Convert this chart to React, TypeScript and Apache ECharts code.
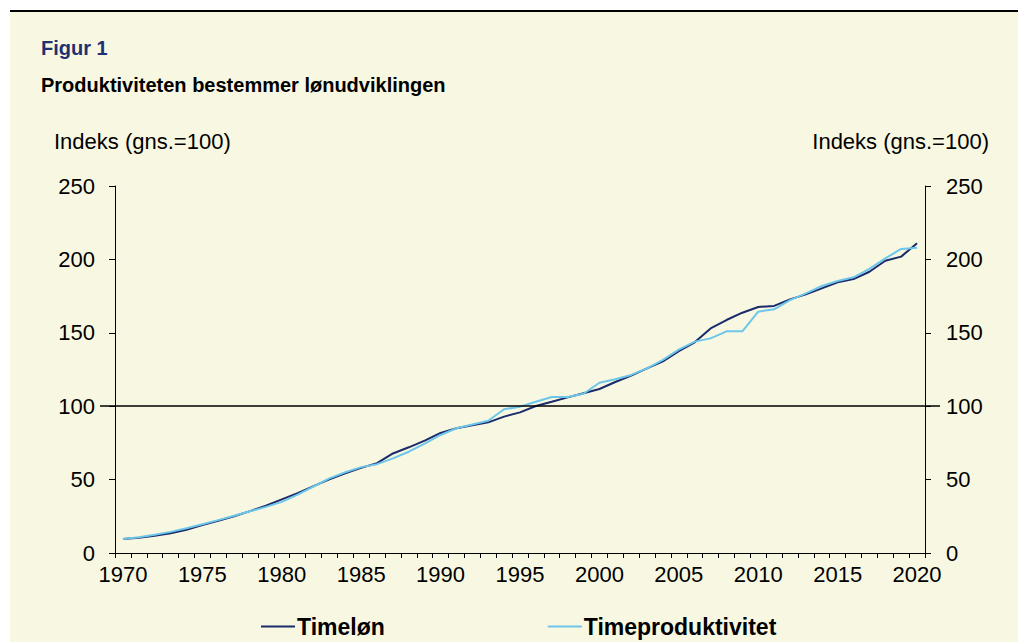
import React, { useEffect, useRef } from 'react';
import * as echarts from 'echarts';

const years = [
  '1970', '1971', '1972', '1973', '1974', '1975', '1976', '1977', '1978', '1979',
  '1980', '1981', '1982', '1983', '1984', '1985', '1986', '1987', '1988', '1989',
  '1990', '1991', '1992', '1993', '1994', '1995', '1996', '1997', '1998', '1999',
  '2000', '2001', '2002', '2003', '2004', '2005', '2006', '2007', '2008', '2009',
  '2010', '2011', '2012', '2013', '2014', '2015', '2016', '2017', '2018', '2019',
  '2020',
];

const timelon = [
  9.5, 10.4, 11.7, 13.4, 15.8, 19.0, 22.0, 25.0, 28.5, 32.2,
  36.5, 40.8, 45.5, 50.2, 54.3, 58.0, 61.2, 67.8, 72.0, 76.5,
  81.8, 85.0, 87.0, 89.0, 92.9, 95.8, 100.1, 103.0, 106.0, 108.8,
  111.7, 116.5, 120.8, 125.8, 130.5, 137.5, 143.5, 153.0, 158.7, 163.7,
  167.6, 168.3, 172.8, 176.2, 180.3, 184.4, 186.6, 191.6, 199.1, 201.9,
  211.0,
];

const timeproduktivitet = [
  9.5, 10.8, 12.4, 14.4, 16.8, 19.6, 22.4, 25.4, 28.4, 31.4,
  34.8, 39.8, 45.3, 50.8, 55.0, 58.5, 60.5, 64.5, 69.0, 74.5,
  80.4, 85.0, 87.5, 90.1, 97.9, 99.7, 103.0, 106.3, 106.3, 108.5,
  116.0, 118.3, 121.3, 125.8, 131.5, 138.5, 144.0, 146.2, 151.0, 151.0,
  164.4, 166.0, 172.3, 176.9, 181.9, 185.3, 187.8, 193.5, 200.7, 207.1,
  208.0,
];

const yMin = 0;
const yMax = 250;
const yInterval = 50;
const referenceValue = 100;

const FONT = '"Liberation Sans", Arial, Helvetica, sans-serif';
const NAVY = '#1B2A6B';
const LIGHT = '#6DC6EA';
const CREAM = '#F8F8E2';

export default function App() {
  const ref = useRef<HTMLDivElement>(null);

  useEffect(() => {
    document.body.style.margin = '0';
    if (!ref.current) return;
    const chart = echarts.init(ref.current, undefined, { renderer: 'svg' });

    const baseY = {
      type: 'value' as const,
      min: yMin,
      max: yMax,
      interval: yInterval,
      splitLine: { show: false },
    };

    chart.setOption({
      animation: false,
      backgroundColor: 'transparent',
      textStyle: { fontFamily: FONT },
      grid: { left: 115, right: 93, top: 186, bottom: 89 },
      graphic: [
        {
          type: 'text',
          left: 41,
          top: 38,
          style: { text: 'Figur 1', fontSize: 20, fontWeight: 'bold', fontFamily: FONT, fill: '#1F3172' },
        },
        {
          type: 'text',
          left: 41,
          top: 75,
          style: {
            text: 'Produktiviteten bestemmer lønudviklingen',
            fontSize: 20,
            fontWeight: 'bold',
            fontFamily: FONT,
            fill: '#000',
          },
        },
        {
          type: 'text',
          left: 54,
          top: 130,
          style: { text: 'Indeks (gns.=100)', fontSize: 22, fontFamily: FONT, fill: '#000' },
        },
        {
          type: 'text',
          right: 29,
          top: 130,
          style: { text: 'Indeks (gns.=100)', fontSize: 22, fontFamily: FONT, fill: '#000' },
        },
      ],
      legend: {
        top: 615,
        left: 261,
        padding: 0,
        itemWidth: 34,
        itemHeight: 2,
        itemGap: 163,
        textStyle: { fontSize: 23, fontWeight: 'bold', color: '#000', fontFamily: FONT, padding: [0, 0, 0, -3] },
        data: [
          { name: 'Timeløn', icon: 'rect' },
          { name: 'Timeproduktivitet', icon: 'rect' },
        ],
      },
      xAxis: {
        type: 'category',
        data: years,
        boundaryGap: true,
        axisLine: { show: true, lineStyle: { color: '#000', width: 1 } },
        axisTick: { show: true, interval: 0, length: 5, lineStyle: { color: '#000', width: 1 } },
        axisLabel: { interval: 4, fontSize: 22, color: '#000', margin: 10, fontFamily: FONT },
        splitLine: { show: false },
      },
      yAxis: [
        {
          ...baseY,
          position: 'left',
          axisLine: { show: true, lineStyle: { color: '#000', width: 1 } },
          axisTick: { show: true, length: 6, lineStyle: { color: '#000', width: 1 } },
          axisLabel: { fontSize: 22, color: '#000', margin: 20, fontFamily: FONT },
        },
        {
          ...baseY,
          position: 'right',
          axisLine: { show: true, lineStyle: { color: '#000', width: 1 } },
          axisTick: { show: true, length: 6, lineStyle: { color: '#000', width: 1 } },
          axisLabel: { fontSize: 22, color: '#000', margin: 21, fontFamily: FONT },
        },
        {
          ...baseY,
          position: 'left',
          axisLine: { show: false },
          axisTick: { show: true, length: 15, customValues: [referenceValue], lineStyle: { color: '#000', width: 1.5 } },
          axisLabel: { show: false },
        },
        {
          ...baseY,
          position: 'right',
          axisLine: { show: false },
          axisTick: { show: true, length: 15, customValues: [referenceValue], lineStyle: { color: '#000', width: 1.5 } },
          axisLabel: { show: false },
        },
      ],
      series: [
        {
          name: 'Timeløn',
          type: 'line',
          data: timelon,
          yAxisIndex: 0,
          symbol: 'none',
          color: NAVY,
          lineStyle: { color: NAVY, width: 2 },
          markLine: {
            silent: true,
            symbol: 'none',
            label: { show: false },
            lineStyle: { color: '#000', width: 1.5, type: 'solid' },
            data: [{ yAxis: referenceValue }],
          },
          z: 2,
        },
        {
          name: 'Timeproduktivitet',
          type: 'line',
          data: timeproduktivitet,
          yAxisIndex: 0,
          symbol: 'none',
          color: LIGHT,
          lineStyle: { color: LIGHT, width: 2 },
          z: 3,
        },
      ],
    });

    return () => chart.dispose();
  }, []);

  return (
    <div style={{ position: 'relative', width: 1018, height: 642, background: '#fff', overflow: 'hidden' }}>
      <div
        style={{
          position: 'absolute',
          left: 10,
          top: 10,
          right: 0,
          bottom: 0,
          background: CREAM,
          borderTop: '2px solid #000',
        }}
      />
      <div ref={ref} style={{ position: 'absolute', left: 0, top: 0, width: 1018, height: 642 }} />
    </div>
  );
}
